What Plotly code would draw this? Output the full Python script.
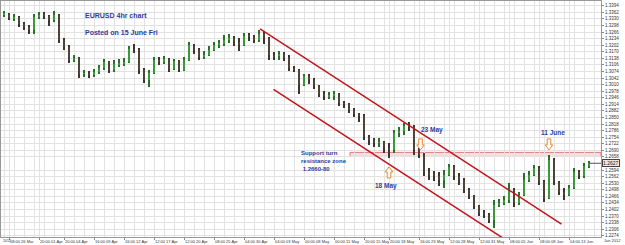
import plotly.graph_objects as go

# ---------------- data (EURUSD, sampled candles) ----------------
opens = [1.3349,1.3354,1.3334,1.3339,1.3305,1.3290,1.3276,1.3339,1.3349,1.3344,
         1.3325,1.3349,1.3227,1.3193,1.3130,1.3140,1.3062,1.3066,1.3057,1.3071,
         1.3091,1.3120,1.3081,1.3110,1.3115,1.3120,1.3183,1.3179,1.3081,1.3032,
         1.3066,1.3130,1.3120,1.3135,1.3086,1.3125,1.3081,1.3130,1.3203,1.3179,
         1.3144,1.3154,1.3179,1.3203,1.3208,1.3227,1.3237,1.3217,1.3203,1.3247,
         1.3242,1.3227,1.3256,1.3237,1.3154,1.3149,1.3159,1.3140,1.3091,1.3081,
         1.3008,1.3052,1.3032,1.3003,1.2964,1.2954,1.2959,1.2964,1.2920,1.2916,
         1.2886,1.2867,1.2857,1.2755,1.2740,1.2726,1.2730,1.2701,1.2692,1.2774,
         1.2784,1.2808,1.2804,1.2692,1.2667,1.2584,1.2570,1.2565,1.2545,1.2570,
         1.2609,1.2565,1.2545,1.2497,1.2467,1.2419,1.2385,1.2375,1.2351,1.2424,
         1.2433,1.2448,1.2497,1.2433,1.2472,1.2545,1.2570,1.2604,1.2536,1.2458,
         1.2643,1.2536,1.2487,1.2472,1.2506,1.2584,1.2565,1.2614]
highs = [1.3368,1.3359,1.3354,1.3344,1.3315,1.3300,1.3354,1.3364,1.3364,1.3349,
         1.3368,1.3354,1.3237,1.3203,1.3154,1.3144,1.3081,1.3076,1.3086,1.3105,
         1.3135,1.3125,1.3130,1.3135,1.3140,1.3198,1.3208,1.3188,1.3091,1.3081,
         1.3144,1.3144,1.3149,1.3140,1.3135,1.3130,1.3144,1.3217,1.3208,1.3188,
         1.3174,1.3198,1.3217,1.3227,1.3252,1.3256,1.3247,1.3237,1.3261,1.3261,
         1.3252,1.3276,1.3271,1.3242,1.3169,1.3174,1.3169,1.3154,1.3101,1.3086,
         1.3062,1.3062,1.3042,1.3008,1.2979,1.2974,1.2979,1.2969,1.2930,1.2920,
         1.2896,1.2872,1.2867,1.2765,1.2750,1.2750,1.2735,1.2726,1.2789,1.2804,
         1.2823,1.2828,1.2813,1.2701,1.2677,1.2604,1.2589,1.2584,1.2594,1.2623,
         1.2618,1.2579,1.2555,1.2506,1.2472,1.2424,1.2399,1.2385,1.2448,1.2453,
         1.2467,1.2531,1.2506,1.2487,1.2579,1.2589,1.2618,1.2614,1.2545,1.2667,
         1.2652,1.2541,1.2506,1.2521,1.2604,1.2594,1.2628,1.2638]
lows = [1.3339,1.3325,1.3320,1.3290,1.3276,1.3256,1.3256,1.3329,1.3329,1.3295,
        1.3315,1.3213,1.3179,1.3115,1.3120,1.3042,1.3047,1.3042,1.3047,1.3062,
        1.3081,1.3066,1.3071,1.3096,1.3101,1.3115,1.3164,1.3062,1.3018,1.2998,
        1.3062,1.3105,1.3110,1.3071,1.3081,1.3071,1.3076,1.3125,1.3159,1.3130,
        1.3135,1.3149,1.3174,1.3188,1.3198,1.3213,1.3198,1.3174,1.3198,1.3222,
        1.3213,1.3217,1.3208,1.3130,1.3130,1.3130,1.3125,1.3076,1.3071,1.2964,
        1.3003,1.3013,1.2989,1.2950,1.2935,1.2940,1.2935,1.2906,1.2896,1.2872,
        1.2852,1.2828,1.2740,1.2716,1.2706,1.2706,1.2677,1.2652,1.2677,1.2755,
        1.2765,1.2784,1.2667,1.2652,1.2565,1.2545,1.2541,1.2516,1.2506,1.2565,
        1.2545,1.2521,1.2482,1.2453,1.2404,1.2370,1.2360,1.2336,1.2312,1.2414,
        1.2424,1.2433,1.2414,1.2424,1.2467,1.2536,1.2565,1.2521,1.2438,1.2453,
        1.2521,1.2472,1.2448,1.2467,1.2502,1.2550,1.2555,1.2604]
closes = [1.3354,1.3334,1.3339,1.3305,1.3290,1.3276,1.3339,1.3349,1.3344,1.3325,
          1.3349,1.3227,1.3193,1.3130,1.3140,1.3062,1.3066,1.3057,1.3071,1.3091,
          1.3120,1.3081,1.3110,1.3115,1.3120,1.3183,1.3179,1.3081,1.3032,1.3066,
          1.3130,1.3120,1.3135,1.3086,1.3125,1.3081,1.3130,1.3203,1.3179,1.3144,
          1.3154,1.3179,1.3203,1.3208,1.3227,1.3237,1.3217,1.3203,1.3247,1.3242,
          1.3227,1.3256,1.3237,1.3154,1.3149,1.3159,1.3140,1.3091,1.3081,1.3008,
          1.3052,1.3032,1.3003,1.2964,1.2954,1.2959,1.2964,1.2920,1.2916,1.2886,
          1.2867,1.2857,1.2755,1.2740,1.2726,1.2730,1.2701,1.2692,1.2774,1.2784,
          1.2808,1.2804,1.2692,1.2667,1.2584,1.2570,1.2565,1.2545,1.2570,1.2609,
          1.2565,1.2545,1.2497,1.2467,1.2419,1.2385,1.2375,1.2351,1.2424,1.2433,
          1.2448,1.2497,1.2433,1.2472,1.2545,1.2570,1.2604,1.2536,1.2458,1.2643,
          1.2536,1.2487,1.2472,1.2506,1.2584,1.2565,1.2614,1.2627]

# time-axis labels (candle index where each label sits)
tick_idx = [1, 7, 12, 18, 24, 30, 36, 42, 48, 54, 60, 66, 72, 77, 83, 89, 95, 101, 107, 113]
tick_text = ["08:00 26 Mar", "20:00 01 Apr", "20:00 04 Apr", "16:00 09 Apr", "16:00 12 Apr",
             "12:00 17 Apr", "12:00 20 Apr", "08:00 25 Apr", "04:00 30 Apr", "04:00 03 May",
             "00:00 08 May", "00:00 11 May", "20:00 15 May", "20:00 18 May", "16:00 23 May",
             "12:00 28 May", "12:00 31 May", "08:00 05 Jun", "08:00 08 Jun", "04:00 13 Jun"]

# price-axis ticks
y_tick0 = 1.2274
y_dtick = 0.0032
y_tick_count = 36

# channel lines (start idx, start price, end idx, end price)
upper_channel = [51.2, 1.3281, 111.5, 1.2331]
lower_channel = [53.9, 1.2987, 100.6, 1.2250]
# support / resistance zone
zone_low, zone_high = 1.2660, 1.2680
zone_start = 69.2

# callout arrows: candle idx, arrow tip price, direction
arrows = [(83.3, 1.2692, "down"), (109.0, 1.2692, "down"), (77.0, 1.2609, "up")]
last_price = 1.2627

x = list(range(len(closes)))
X_MAX = 119.4

BLUE = "#2e3a9e"
FONT = "Liberation Sans, Arial, sans-serif"
UP_COL = "#3a9a3a"
DN_COL = "#4f4238"

up = [c >= o for o, c in zip(opens, closes)]
colors = [UP_COL if u else DN_COL for u in up]
wick_cols = ["#2c6e2c" if u else "#3e3530" for u in up]

fig = go.Figure()
# wicks
fig.add_trace(go.Bar(x=x, base=lows, y=[h - l for h, l in zip(highs, lows)], width=0.22,
                     marker=dict(color=wick_cols, line=dict(width=0)),
                     showlegend=False, hoverinfo="skip"))
# bodies
fig.add_trace(go.Bar(x=x, base=[min(o, c) for o, c in zip(opens, closes)],
                     y=[max(abs(c - o), 0.00012) for o, c in zip(opens, closes)], width=0.42,
                     marker=dict(color=colors, line=dict(width=0)),
                     showlegend=False, hoverinfo="skip"))

# last price marker line
fig.add_shape(type="line", xref="x", yref="y", x0=x[-1], x1=X_MAX,
              y0=last_price, y1=last_price, line=dict(color="#555", width=1))

# zone
fig.add_shape(type="rect", xref="x", yref="y", x0=zone_start, x1=X_MAX,
              y0=zone_low, y1=zone_high, fillcolor="rgba(240,160,160,0.35)",
              line=dict(color="#e07a7a", width=1), layer="below")

# channel
for seg in (upper_channel, lower_channel):
    fig.add_shape(type="line", xref="x", yref="y", x0=seg[0], y0=seg[1], x1=seg[2], y1=seg[3],
                  line=dict(color="#c0161c", width=1.5))

# hollow block arrows (pixel sized, anchored at the tip)
DOWN = "M -1.8 11 L 1.8 11 L 1.8 5 L 3.8 5 L 0 0 L -3.8 5 L -1.8 5 Z"
UP = "M -1.8 -11 L 1.8 -11 L 1.8 -5 L 3.8 -5 L 0 0 L -3.8 -5 L -1.8 -5 Z"
for ix, py, d in arrows:
    fig.add_shape(type="path", xref="x", yref="y", xsizemode="pixel", ysizemode="pixel",
                  xanchor=ix, yanchor=py, path=DOWN if d == "down" else UP,
                  fillcolor="white", line=dict(color="#e88a2c", width=1))

annotations = []
def txt(text, xv, yv, xref="x", yref="y", size=7, color=BLUE, xanchor="left", yanchor="middle", bold=True):
    annotations.append(dict(text=("<b>%s</b>" % text) if bold else text, x=xv, y=yv,
                            xref=xref, yref=yref, showarrow=False, xanchor=xanchor,
                            yanchor=yanchor, font=dict(family=FONT, size=size, color=color)))

txt("EURUSD 4hr chart", 82 / 600, 1 - 14.5 / 236, xref="paper", yref="paper")
txt("Posted on 15 June Fri", 82 / 600, 1 - 32 / 236, xref="paper", yref="paper")
txt("23 May", 83.0, 1.2788, size=6.5)
txt("11 June", 107.0, 1.2777, size=6.5)
txt("18 May", 73.8, 1.2514, size=6.5)
annotations.append(dict(text="<b>Support turn<br>resistance zone<br> 1.2660-80</b>",
                        x=59.0, y=1.2640, xref="x", yref="y", showarrow=False,
                        xanchor="left", yanchor="middle", align="left",
                        font=dict(family=FONT, size=6, color=BLUE)))
# current price box
annotations.append(dict(text="%.4f" % last_price, x=1.0, y=last_price, xref="paper", yref="y",
                        showarrow=False, xanchor="left", yanchor="middle", xshift=1,
                        font=dict(family=FONT, size=5, color="#222"),
                        bgcolor="#f5e4dc", bordercolor="#444", borderwidth=1, borderpad=0))
txt("2012", -0.5 / 600, -3.6 / 236, xref="paper", yref="paper", size=3.5, color="#333", bold=False)
txt("Jun 2012", 622 / 600, -3.6 / 236, xref="paper", yref="paper", size=4, color="#333",
    xanchor="right", bold=False)

# price ticks built from tick0/dtick, skipping the one hidden by the price box
y_ticks = [round(y_tick0 + k * y_dtick, 4) for k in range(y_tick_count)]
y_ticks = [v for v in y_ticks if abs(v - last_price) > 0.0015]

fig.update_layout(
    width=625, height=245,
    margin=dict(l=1, r=24, t=1, b=8),
    paper_bgcolor="white", plot_bgcolor="white",
    barmode="overlay", bargap=0,
    annotations=annotations,
    xaxis=dict(range=[-0.6, X_MAX], tickmode="array", tickvals=tick_idx, ticktext=tick_text,
               tickangle=0, ticklabelposition="outside right",
               tickfont=dict(family=FONT, size=4, color="#333"),
               ticks="outside", ticklen=2, tickcolor="#888",
               showgrid=True, gridcolor="#e2e2e2", gridwidth=1,
               minor=dict(dtick=2, tick0=0, showgrid=True, gridcolor="#e2e2e2", gridwidth=1),
               showline=True, linecolor="#999", mirror=True, zeroline=False, fixedrange=True),
    yaxis=dict(range=[1.2268, 1.3417], side="right", tickmode="array", tickvals=y_ticks,
               tickformat=".4f", tickfont=dict(family=FONT, size=4.5, color="#333"),
               ticks="outside", ticklen=2, tickcolor="#888",
               showgrid=True, gridcolor="#e2e2e2", gridwidth=1,
               showline=True, linecolor="#999", mirror=True, zeroline=False, fixedrange=True),
)

fig.write_html("out.html", config=dict(displayModeBar=False))
